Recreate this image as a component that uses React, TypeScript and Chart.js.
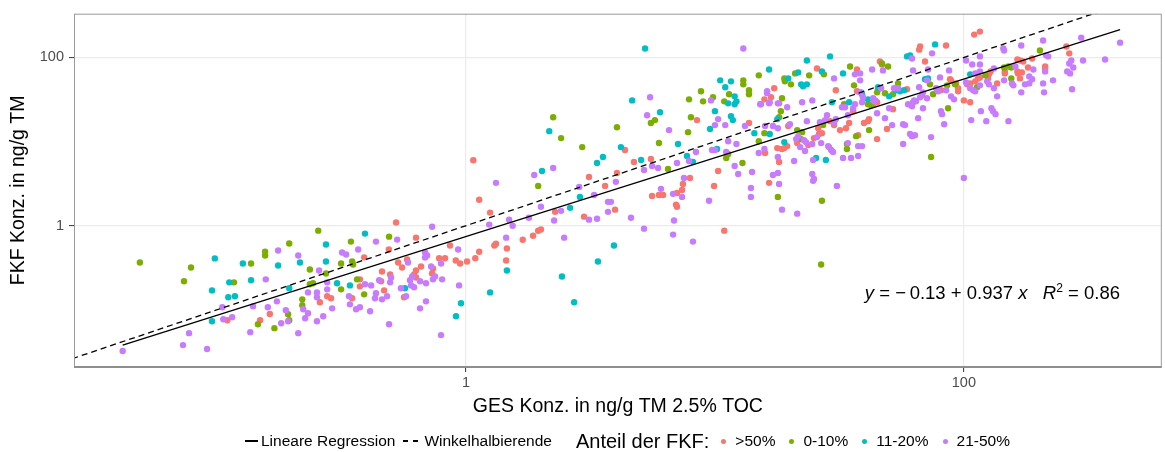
import { useEffect, useRef } from "react";
import { Chart, registerables } from "chart.js";

Chart.register(...registerables);

const FONT = "'Liberation Sans', Arial, Helvetica, sans-serif";

const groupLabels = [">50%", "0-10%", "11-20%", "21-50%"];
const groupColors = ["#F8766D", "#7CAE00", "#00BFC4", "#C77CFF"];

const xTickValues = [1, 100];
const xTickLabels = ["1", "100"];
const yTickValues = [1, 100];
const yTickLabels = ["1", "100"];

const xTitle = "GES Konz. in ng/g TM 2.5% TOC";
const yTitle = "FKF Konz. in ng/g TM";

const xRange = [0.02664, 623.6];
const yRange = [0.02087, 331.6];

// fitted regression (log-log): endpoints at min / max of GES values
const regressionLine = [[0.0418, 0.0379], [424, 215]];
// bisector y = x
const bisectorLine = [[0.01, 0.01], [1000, 1000]];

// Anteil der FKF > 50%
const redPoints = [
  [0.39, 0.42], [0.375, 0.23], [0.375, 0.19], [0.277, 0.145], [0.287, 0.137], [0.349, 0.137], [0.46, 0.285], [0.496, 0.263], [0.456, 0.218], [0.469, 0.17], [0.259, 0.123], [0.149, 0.075], [0.11, 0.075], [0.163, 0.089],
  [1.07, 6.0], [1.13, 2.03], [1.25, 1.43], [2.28, 1.46], [1.95, 0.87], [2.0, 0.9], [1.86, 0.76], [1.69, 0.68], [1.3, 0.58], [1.32, 0.61], [1.46, 0.535], [1.13, 0.49], [1.09, 0.41], [1.45, 0.385], [1.01, 0.375], [0.947, 0.355], [0.91, 0.385], [0.863, 0.58], [0.78, 0.41], [0.824, 0.41], [0.63, 0.72], [0.524, 1.09], [0.49, 0.52], [0.534, 0.365], [0.554, 0.318], [0.58, 0.396], [0.66, 0.327], [0.737, 0.31], [0.731, 0.27], [0.63, 0.293], [0.619, 0.263], [0.63, 0.242], [0.564, 0.141],
  [3.62, 2.97], [2.98, 1.28], [3.97, 1.55], [5.59, 2.26], [5.96, 2.32], [6.19, 2.32], [6.98, 1.77], [7.04, 1.68], [7.04, 2.45], [7.38, 2.66], [7.44, 3.14], [9.92, 2.97], [10.9, 0.873], [16.5, 3.23],
  [8.47, 18.0], [13.7, 16.6], [17.3, 43], [15.8, 31.8], [16.8, 33.6], [4.35, 7.93], [5.53, 6.21], [4.73, 5.71], [4.04, 4.23], [3.12, 3.79], [7.94, 3.69], [10.3, 4.47], [15.9, 7.31],
  [110, 187], [116, 203], [66.7, 135], [66.1, 124], [84.8, 139], [69.8, 89.7], [46, 89.7], [46.9, 82.7], [25.7, 74.1], [37.2, 72.1], [30.6, 40.7], [37.2, 39.6], [59.1, 41.9], [43.2, 27.8], [44.8, 29.3], [62.5, 29.3], [67.9, 35.5], [88, 55], [88.8, 53.5], [93, 49.2], [94.8, 43], [94.8, 39.6], [80.9, 40.7], [100, 30.9], [106, 29.3], [103, 47.9], [106, 49.2], [111, 52], [114, 56.4], [51.9, 24.2], [49.1, 14.1], [44.8, 10.7], [41.2, 17.5], [41.6, 18.5], [39.7, 16.6], [35.9, 23], [34.6, 16.6], [33.6, 14.4], [31.8, 13.7], [30.1, 15.7], [29, 17.5], [26, 14.4], [26.9, 12.6], [26.2, 12.3], [25, 11], [19.7, 15.3], [19, 8.37], [19.5, 8.84], [18.6, 8.15], [21.4, 9.6], [23.7, 9.1], [28.7, 8.6], [37.6, 11.9], [18.1, 5.71], [17.8, 8.37],
  [258, 135], [265, 112], [164, 94.7], [168, 92.1], [173, 89.7], [188, 97.3], [181, 76.1], [212, 78.2], [212, 74.1], [164, 68.3], [171, 66.5], [165, 64.7], [146, 68.3], [146, 64.7], [128, 68.3], [126, 63], [116, 58], [125, 56.4], [136, 49.2], [168, 56.4],
];

// Anteil der FKF 0-10%
const greenPoints = [
  [0.049, 0.365], [0.0737, 0.218], [0.0786, 0.318], [0.137, 0.355], [0.156, 0.492], [0.156, 0.442], [0.195, 0.613], [0.255, 0.873], [0.491, 0.74], [0.236, 0.301], [0.274, 0.27], [0.315, 0.355], [0.345, 0.647], [0.349, 0.375], [0.352, 0.345], [0.365, 0.23], [0.315, 0.175], [0.236, 0.201], [0.243, 0.207], [0.22, 0.133], [0.22, 0.113], [0.193, 0.0885], [0.195, 0.075], [0.146, 0.0674], [0.17, 0.0605], [0.117, 0.212], [0.39, 0.1525],
  [2.41, 11], [1.95, 2.97], [2.24, 19.5], [4.04, 14.8], [2.93, 8.6], [5.53, 16.6], [5.74, 18], [5.96, 9.6], [6.48, 4.73], [7.8, 12.95], [8.01, 19.5], [7.87, 31.8], [8.79, 39.6], [8.96, 30.1], [9.82, 33.6], [10.9, 30.1], [11.4, 36.5], [13, 53.5], [13, 47.9], [13.7, 40.7], [13.7, 36.5], [15, 61.3], [15, 10.1], [15.8, 12.6], [12.9, 5.56], [11.3, 7.12], [11.1, 6.37], [17.9, 2.2], [26.9, 1.98], [26.7, 0.345],
  [46.9, 84.9], [49.6, 78.2], [27.4, 63], [34.9, 78.2], [23.9, 61.3], [21, 64.7], [19, 56.4], [19.1, 52], [20.2, 47.9], [36.2, 46.6], [41.2, 27.8], [33, 27.8], [45.2, 41.9], [44.8, 38.5], [48.2, 37.5], [54.4, 49.2], [51.9, 36.5], [42.4, 27], [73.1, 47.9], [75.2, 36.5], [85.6, 46.6], [92.1, 47.9], [113, 44.2], [86.4, 24.9], [73.8, 6.55], [41.6, 13.7], [27.2, 15.7], [18.6, 32.7], [18.4, 23], [18.1, 19.5], [21.4, 13.7], [22.4, 12.95], [22.2, 10.7], [33.9, 9.34], [33.9, 8.15], [36.9, 11.6],
  [202, 121], [145, 76.1], [151, 78.2], [155, 76.1], [122, 61.3], [155, 56.4],
];

// Anteil der FKF 11-20%
const cyanPoints = [
  [0.098, 0.408], [0.0955, 0.17], [0.127, 0.355], [0.176, 0.336], [0.274, 0.597], [0.393, 0.805], [0.2155, 0.365], [0.137, 0.224], [0.112, 0.212], [0.111, 0.141], [0.118, 0.145], [0.195, 0.18], [0.274, 0.375], [0.3035, 0.2065], [0.342, 0.195], [0.0955, 0.073],
  [2.16, 13.3], [2.02, 4.47], [1.46, 0.293], [1.25, 0.161], [0.955, 0.1195], [0.912, 0.0838], [0.569, 0.18],
  [2.87, 2.2], [2.62, 1.63], [3.39, 0.375], [3.93, 0.58], [2.43, 0.249], [2.72, 0.123],
  [5.24, 128], [16.5, 72.1], [10.5, 53.5], [11.6, 52], [11, 44.2], [12, 34.5], [12.2, 30.1], [12, 27.8], [11.3, 28.5], [4.65, 30.9], [6.02, 22.3], [10, 23], [9.56, 14.1], [11.6, 20], [11.8, 18], [17.8, 18.5], [4.19, 8.6], [7.11, 9.34], [14.4, 12.6], [16.6, 12.3], [10.2, 8.15], [7.72, 6.73], [8.16, 5.71], [5.05, 6.04], [3.55, 6.55], [3.36, 5.56],
  [76.6, 143], [59.1, 103], [60.8, 106], [29, 103], [23.4, 92.1], [26.9, 68.3], [32.7, 64.7], [21.6, 66.5], [19.7, 56.4], [22.2, 47.9], [22.6, 45.4], [23.4, 47.9], [39, 36.5], [38.6, 38.5], [41.2, 31.8], [34.6, 29.3], [29.5, 29.3], [45.2, 44.2], [53.4, 40.7], [55.4, 39.6], [57.5, 40.7], [50.1, 34.5], [71.8, 56.4], [69.8, 55], [106, 63], [19, 9.86], [25.5, 6.37], [27.9, 6.04],
];

// Anteil der FKF 21-50%
const purplePoints = [
  [0.0418, 0.0323], [0.073, 0.038], [0.0912, 0.0341], [0.0772, 0.0527], [0.105, 0.107], [0.106, 0.0772], [0.115, 0.0815], [0.136, 0.0542], [0.1395, 0.11], [0.157, 0.23], [0.16, 0.107], [0.174, 0.126], [0.176, 0.506], [0.181, 0.0692], [0.189, 0.0987], [0.193, 0.073], [0.212, 0.442], [0.212, 0.0527], [0.222, 0.1015], [0.226, 0.0794], [0.232, 0.091], [0.252, 0.073], [0.267, 0.0838], [0.29, 0.104], [0.232, 0.161], [0.252, 0.161], [0.252, 0.141], [0.257, 0.293], [0.277, 0.175], [0.277, 0.212], [0.318, 0.479], [0.33, 0.454], [0.369, 0.52], [0.435, 0.647], [0.393, 0.201], [0.416, 0.195], [0.339, 0.1446], [0.342, 0.116], [0.362, 0.1015], [0.375, 0.107], [0.412, 0.096], [0.435, 0.157], [0.431, 0.137], [0.46, 0.133], [0.482, 0.1446], [0.448, 0.224], [0.491, 0.0674],
  [1.88, 4.01], [2.24, 4.86], [1.32, 3.23], [2.0, 1.68], [1.49, 1.18], [1.54, 1.0], [1.24, 1.03], [1.79, 1.24], [2.26, 1.15], [2.41, 1.5], [2.48, 0.72], [1.45, 0.72], [0.93, 0.52], [0.938, 0.195], [0.794, 0.05], [0.794, 0.355], [0.731, 0.973], [0.529, 0.683], [0.585, 0.365], [0.685, 0.479], [0.698, 0.442], [0.685, 0.419], [0.724, 0.327], [0.751, 0.249], [0.737, 0.23], [0.802, 0.23], [0.608, 0.249], [0.596, 0.224], [0.602, 0.195], [0.619, 0.185], [0.654, 0.218], [0.691, 0.207], [0.5, 0.242], [0.496, 0.212], [0.548, 0.18], [0.5745, 0.1446], [0.691, 0.126], [0.654, 0.104],
  [2.85, 2.89], [3.27, 2.32], [4.0, 3.32], [3.12, 1.18], [3.36, 1.21], [3.72, 1.92], [3.82, 1.92], [3.72, 1.46], [4.6, 1.24], [5.19, 0.922], [6.07, 2.74], [6.79, 2.39], [7.38, 2.2], [6.85, 1.15], [6.79, 0.783], [8.16, 0.647], [9.47, 1.98], [13.95, 2.81], [13.95, 2.2], [18.1, 3.14], [18.6, 1.55], [21.4, 1.39], [30.9, 2.97], [24.8, 3.41],
  [13, 128], [5.49, 33.6], [5.34, 20.6], [6.54, 13.7], [15.3, 27.8], [16.2, 37.5], [16.6, 29.3], [17.9, 28.5], [9.64, 30.9], [10.3, 18.5], [10, 15.7], [11, 15.7], [13.2, 15.3], [15.9, 15.3], [17.1, 15.3], [11.3, 10.1], [12.2, 9.34], [15.8, 8.15], [15, 7.31], [9.74, 7.93], [10, 7.93], [11.1, 7.51], [8.39, 7.51], [7.87, 5.87], [7.04, 5.56], [5.59, 5.13], [5.91, 4.86], [5.19, 4.6], [7.51, 3.69], [12, 5.13], [12.4, 4.12], [14.1, 4.35], [17.9, 6.55], [17.9, 4.23], [17.1, 4.01],
  [74.5, 112], [61.9, 97.3], [71.8, 72.1], [47.3, 70.2], [62.5, 70.2], [42.8, 72.1], [36.5, 63], [38.3, 64.7], [38.3, 53.5], [30.1, 56.4], [38.3, 38.5], [39.3, 33.6], [32.4, 25.6], [33.3, 25.6], [36.5, 27.8], [35.9, 24.9], [39, 29.3], [43.6, 30.1], [46.5, 43], [52.4, 43], [54.4, 43], [43.2, 32.7], [44, 30.9], [66.1, 44.2], [71.1, 53.5], [80.2, 58], [87.2, 70.2], [63.1, 30.9], [64.2, 30.1], [59.7, 27.8], [61.9, 26.3], [66.7, 33.6], [71.1, 32.7], [77.3, 43], [78.8, 39.6], [68.5, 38.5], [84.8, 40.7], [88.8, 34.5], [91.3, 31.8], [102, 50.6], [106, 43], [109, 40.7], [111, 39.6], [111, 64.7], [116, 68.3], [108, 82.7], [102, 92.1], [107, 18], [100, 3.69], [80.9, 23], [81.7, 21.2], [83.3, 16.1], [73.8, 11.3], [65.5, 19], [60.8, 12.3], [61.9, 11.6], [63.6, 11.9], [57, 16.1], [58, 15.7], [57, 9.34], [51.5, 15.7], [50.1, 24.9], [48.2, 19], [44.8, 21.7], [34.2, 20.6], [30.1, 17], [30.6, 18.5], [28.2, 20.6], [27.7, 18], [26.4, 17], [23.4, 17.5], [24.6, 30.9], [22.4, 29.3], [20, 16.1], [19.5, 25.6], [18.1, 28.5], [21.6, 11.6], [21.2, 10.7], [22.8, 10.4], [23.2, 9.86], [22, 8.6], [23, 7.72], [24.6, 9.34], [25.7, 11.3], [26.7, 9.59], [28.5, 8.84], [29.3, 7.93], [29.8, 7.51], [37.6, 8.84], [39, 8.84], [37.6, 6.73], [35.2, 6.37], [32.7, 6.37], [24.8, 6.04], [25, 3.6], [24.6, 4.12], [20.8, 5.87], [17.9, 14.4], [16.2, 39.6], [16.5, 28.5], [15.2, 27.8], [68.5, 24.9], [117, 23], [123, 17.5], [134, 21.2], [129, 24.9], [131, 23], [151, 17.5], [34.2, 9.59],
  [424, 150], [296, 172], [208, 159], [170, 139], [144, 128], [145, 121], [214, 106], [218, 103], [369, 94.7], [301, 92.1], [270, 92.1], [265, 84.9], [275, 76.1], [260, 68.3], [267, 64.7], [212, 68.3], [190, 72.1], [161, 78.2], [132, 74.1], [116, 103], [116, 82.7], [116, 46.6], [124, 52], [126, 47.9], [132, 43], [136, 34.5], [145, 53.5], [156, 49.2], [158, 46.6], [183, 59.6], [188, 55], [176, 47.9], [183, 49.2], [170, 38.5], [208, 49.2], [228, 53.5], [210, 38.5], [272, 41.9],
];

const groupPoints = [redPoints, greenPoints, cyanPoints, purplePoints];

const toXY = (arr: number[][]) => arr.map(([x, y]) => ({ x, y }));

const panelBorder = {
  id: "panelBorder",
  afterDatasetsDraw(chart: any) {
    const { ctx, chartArea: a } = chart;
    ctx.save();
    ctx.strokeStyle = "#9a9a9a";
    ctx.lineWidth = 1;
    ctx.strokeRect(a.left + 0.5, a.top + 0.5, a.right - a.left - 1, a.bottom - a.top - 1);
    ctx.strokeStyle = "#8e8e8e";
    ctx.lineWidth = 2;
    ctx.beginPath();
    ctx.moveTo(a.left, a.bottom);
    ctx.lineTo(a.right, a.bottom);
    ctx.stroke();
    ctx.restore();
  },
};

export default function App() {
  const canvasRef = useRef<HTMLCanvasElement | null>(null);

  useEffect(() => {
    if (!canvasRef.current) return;
    const pointSets = groupPoints
      .map((pts, i) => ({
        type: "scatter" as const,
        label: groupLabels[i],
        data: toXY(pts),
        backgroundColor: groupColors[i],
        borderWidth: 0,
        pointRadius: 3.2,
        pointHoverRadius: 3.2,
      }))
      .reverse();

    const chart = new Chart(canvasRef.current, {
      type: "scatter",
      data: {
        datasets: [
          {
            type: "line",
            label: "Lineare Regression",
            data: toXY(regressionLine),
            borderColor: "#000000",
            borderWidth: 1.3,
            pointRadius: 0,
            fill: false,
          } as any,
          {
            type: "line",
            label: "Winkelhalbierende",
            data: toXY(bisectorLine),
            borderColor: "#000000",
            borderWidth: 1.3,
            borderDash: [6, 4],
            pointRadius: 0,
            fill: false,
          } as any,
          ...pointSets,
        ],
      },
      options: {
        animation: false,
        responsive: false,
        maintainAspectRatio: false,
        events: [],
        layout: { padding: { left: 0, top: 12, right: 3, bottom: 0 } },
        plugins: { legend: { display: false }, tooltip: { enabled: false } },
        scales: {
          x: {
            type: "logarithmic",
            position: "bottom",
            min: xRange[0],
            max: xRange[1],
            afterBuildTicks: (s: any) => {
              s.ticks = xTickValues.map((v) => ({ value: v }));
            },
            afterFit: (s: any) => {
              s.height = 85;
            },
            ticks: {
              autoSkip: false,
              maxRotation: 0,
              padding: 2,
              color: "#4D4D4D",
              font: { family: FONT, size: 14.5 },
              callback: (_v: any, i: number) => xTickLabels[i],
            },
            grid: { color: "#EBEBEB", lineWidth: 1.2, tickColor: "#333333", tickLength: 5, tickWidth: 1 },
            border: { display: false },
            title: {
              display: true,
              text: xTitle,
              color: "#000000",
              font: { family: FONT, size: 19.5 },
              padding: { top: 0, bottom: 34 },
            },
          },
          y: {
            type: "logarithmic",
            position: "left",
            min: yRange[0],
            max: yRange[1],
            afterBuildTicks: (s: any) => {
              s.ticks = yTickValues.map((v) => ({ value: v }));
            },
            afterFit: (s: any) => {
              s.width = 74;
            },
            ticks: {
              autoSkip: false,
              padding: 5,
              color: "#4D4D4D",
              font: { family: FONT, size: 14.5 },
              callback: (_v: any, i: number) => yTickLabels[i],
            },
            grid: { color: "#EBEBEB", lineWidth: 1.2, tickColor: "#333333", tickLength: 5, tickWidth: 1 },
            border: { display: false },
            title: {
              display: true,
              text: yTitle,
              color: "#000000",
              font: { family: FONT, size: 19.5 },
              padding: { top: 7, bottom: 0 },
            },
          },
        },
      } as any,
      plugins: [panelBorder],
    });
    return () => chart.destroy();
  }, []);

  const legendText = { fontSize: 15.5, color: "#000" };
  return (
    <div style={{ position: "absolute", left: 0, top: 0, width: 1165, height: 452, fontFamily: FONT, background: "#fff" }}>
      <canvas ref={canvasRef} width={1165} height={452} style={{ display: "block", width: 1165, height: 452 }} />
      <div
        style={{
          position: "absolute",
          right: 45,
          top: 280,
          fontSize: 18.5,
          lineHeight: "26px",
          whiteSpace: "nowrap",
          color: "#000",
        }}
      >
        <i>y</i>
        {" = \u2212\u20090.13 + 0.937 "}
        <i>x</i>
        {"\u00a0\u00a0 "}
        <i>R</i>
        <sup style={{ fontSize: 12, verticalAlign: "7px", lineHeight: 0 }}>2</sup>
        {" = 0.86"}
      </div>
      <div
        style={{
          position: "absolute",
          left: 245,
          top: 430,
          height: 22,
          display: "flex",
          alignItems: "center",
          whiteSpace: "nowrap",
        }}
      >
        <span style={{ display: "inline-block", width: 13, borderTop: "2px solid #000", marginRight: 3 }} />
        <span style={legendText}>Lineare Regression</span>
        <span style={{ display: "inline-block", width: 5, borderTop: "2px solid #000", marginLeft: 8 }} />
        <span style={{ display: "inline-block", width: 5, borderTop: "2px solid #000", marginLeft: 5, marginRight: 6 }} />
        <span style={legendText}>Winkelhalbierende</span>
        <span style={{ fontSize: 20, color: "#000", marginLeft: 24, marginRight: 6 }}>Anteil der FKF:</span>
        {groupLabels.map((g, i) => (
          <span key={g} style={{ display: "inline-flex", alignItems: "center", marginLeft: 6, marginRight: 8 }}>
            <span
              style={{
                display: "inline-block",
                width: 5,
                height: 5,
                borderRadius: "50%",
                background: groupColors[i],
                marginRight: 9,
              }}
            />
            <span style={legendText}>{g}</span>
          </span>
        ))}
      </div>
    </div>
  );
}
